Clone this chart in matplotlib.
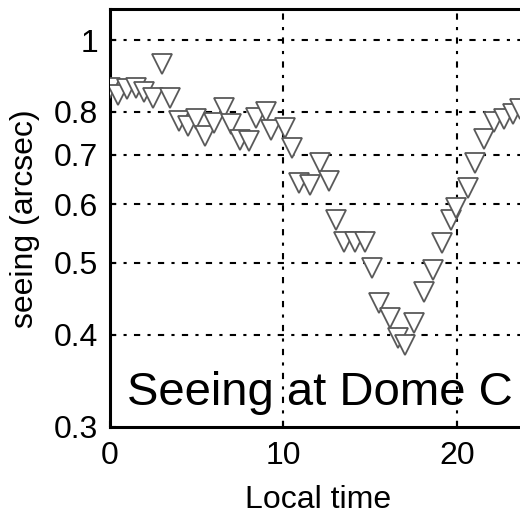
"""Seeing at Dome C versus local time."""

import matplotlib
matplotlib.use("Agg")
import matplotlib.pyplot as plt
from matplotlib.ticker import FixedLocator, NullLocator, FixedFormatter

plt.rcParams["font.family"] = ["Liberation Sans", "DejaVu Sans"]

local_time = [0, 0.5, 1, 1.5, 2, 2.5, 3, 3.5, 4, 4.5, 5, 5.5, 6, 6.6, 7, 7.5,
              8, 8.4, 9, 9.3, 10.1, 10.5, 10.9, 11.5, 12.1, 12.6, 13, 13.5,
              14.1, 14.7, 15.1, 15.5, 16.1, 16.6, 17, 17.5, 18.1, 18.6, 19.1,
              19.6, 19.9, 20.6, 21, 21.5, 22.1, 22.7, 23.2, 23.6]
seeing = [0.861, 0.843, 0.859, 0.861, 0.851, 0.835, 0.928, 0.835, 0.777,
          0.765, 0.782, 0.742, 0.772, 0.809, 0.770, 0.733, 0.730, 0.785,
          0.799, 0.756, 0.760, 0.715, 0.641, 0.637, 0.682, 0.645, 0.571,
          0.533, 0.533, 0.533, 0.492, 0.441, 0.421, 0.396, 0.387, 0.415,
          0.456, 0.489, 0.532, 0.571, 0.593, 0.631, 0.682, 0.735, 0.775,
          0.782, 0.794, 0.807]

y_ticks = [0.3, 0.4, 0.5, 0.6, 0.7, 0.8, 1.0]
y_tick_labels = ["0.3", "0.4", "0.5", "0.6", "0.7", "0.8", "1"]
y_grid = [0.4, 0.5, 0.6, 0.7, 0.8, 1.0]
x_ticks = [0, 10, 20]

fig = plt.figure(figsize=(5.2, 5.14), dpi=100)
ax = fig.add_axes([109.5 / 520, 87 / 514, 24 * 17.4 / 520, 417.5 / 514])

grid_style = dict(color="black", lw=1.5, dashes=(3, 3.5, 1.5, 3.5), zorder=1)
for gy in y_grid:
    ax.axhline(gy, **grid_style)
for gx in x_ticks[1:]:
    ax.axvline(gx, **grid_style)

ax.plot(local_time, seeing, linestyle="none", marker="v", markersize=15,
        markerfacecolor="white", markeredgecolor="0.35", markeredgewidth=1.3,
        zorder=3)

ax.set_yscale("log")
ax.set_xlim(0, 24)
ax.set_ylim(0.3, 1.1)
ax.yaxis.set_major_locator(FixedLocator(y_ticks))
ax.yaxis.set_major_formatter(FixedFormatter(y_tick_labels))
ax.yaxis.set_minor_locator(NullLocator())
ax.set_xticks(x_ticks)

ax.tick_params(direction="in", length=4, width=1.5, labelsize=23, pad=8)
ax.tick_params(axis="x", pad=10)
for side in ["left", "bottom", "top", "right"]:
    ax.spines[side].set_linewidth(2.2)

ax.set_xlabel("Local time", fontsize=23, labelpad=10)
ax.set_ylabel("seeing (arcsec)", fontsize=23, labelpad=10)

ax.text(0.98, 0.321, "Seeing at Dome C", fontsize=34, ha="left",
        va="baseline", zorder=4)

fig.savefig("out.png", dpi=100)
